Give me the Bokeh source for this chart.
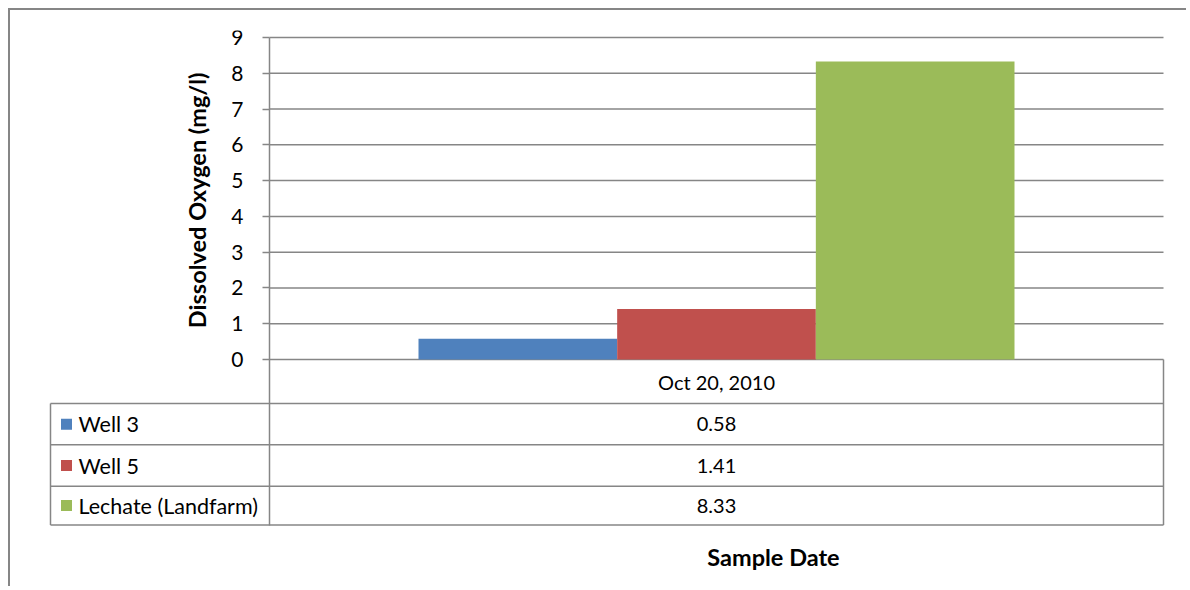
from math import pi
from bokeh.plotting import figure
from bokeh.models import Range1d, FixedTicker
from bokeh.core.properties import value
from bokeh.embed import file_html
from bokeh.resources import INLINE

# ---------------- data ----------------
categories = ["Oct 20, 2010"]
series = ["Well 3", "Well 5", "Lechate (Landfarm)"]
values = [0.58, 1.41, 8.33]
colors = ["#4F81BD", "#C0504D", "#9BBB59"]
value_labels = ["0.58", "1.41", "8.33"]
y_ticks = [0, 1, 2, 3, 4, 5, 6, 7, 8, 9]
y_title = "Dissolved Oxygen (mg/l)"
x_title = "Sample Date"

# ---------------- layout (page pixels) ----------------
MARGIN = 8
BORDER = 2
W, H = 1178, 578
ORG_X = MARGIN + BORDER
ORG_Y = MARGIN + BORDER
AX_X = 269.0      # y axis / category start
PLOT_R = 1163.0   # category end
Y0_PX = 359.0     # value 0
Y9_PX = 37.0      # value 9
FRAME_L = 48.0
FRAME_T = 30.0
FRAME_R = ORG_X + W
FRAME_B = ORG_Y + H
ROW_PX = [359.0, 403.0, 444.3, 485.7, 524.5]
LEG_L = 50.0
GRID = "#868686"
FONT = "Lato"

PX_PER_UNIT = (Y0_PX - Y9_PX) / (y_ticks[-1] - y_ticks[0])
CAT_W = PLOT_R - AX_X


def dx(px):
    return (px - AX_X) / CAT_W


def dy(py):
    return (Y0_PX - py) / PX_PER_UNIT


p = figure(width=W, height=H, output_backend="svg", toolbar_location=None,
           x_range=Range1d(dx(FRAME_L), dx(FRAME_R)),
           y_range=Range1d(dy(FRAME_B), dy(FRAME_T)),
           x_axis_location=None,
           min_border_left=int(FRAME_L - ORG_X), min_border_top=int(FRAME_T - ORG_Y),
           min_border_right=0, min_border_bottom=0)
p.styles = {"margin-left": f"{MARGIN}px", "margin-top": f"{MARGIN}px",
            "border-left": f"{BORDER}px solid {GRID}", "border-top": f"{BORDER}px solid {GRID}"}
p.outline_line_color = None
p.xgrid.visible = False
p.ygrid.visible = False
p.background_fill_color = "white"
p.border_fill_color = "white"

# y axis drawn through the category start
ax = p.yaxis[0]
ax.fixed_location = 0
ax.ticker = FixedTicker(ticks=y_ticks)
ax.bounds = (dy(ROW_PX[-1]), y_ticks[-1])
ax.axis_line_color = GRID
ax.axis_line_width = 1.5
ax.major_tick_line_color = GRID
ax.major_tick_line_width = 1.5
ax.major_tick_in = 0
ax.major_tick_out = 7
ax.minor_tick_line_color = None
ax.major_label_standoff = 19
ax.major_label_text_font = FONT
ax.major_label_text_font_size = "21px"
ax.major_label_text_color = "black"

# gridlines at ticks
p.segment(x0=[0] * len(y_ticks), x1=[1] * len(y_ticks), y0=y_ticks, y1=y_ticks,
          line_color=GRID, line_width=1.5)

# bars
n = len(series)
bw = (2.0 / 3.0) / n
for ci, cat in enumerate(categories):
    xs = [ci + 0.5 + (j - (n - 1) / 2) * bw for j in range(n)]
    p.vbar(x=xs, top=values, bottom=0, width=bw, fill_color=colors, line_color=None)

# data table lines
rows_y = [dy(v) for v in ROW_PX]
p.segment(x0=[dx(LEG_L)] * 4, x1=[1] * 4, y0=rows_y[1:], y1=rows_y[1:],
          line_color=GRID, line_width=1.5)
p.segment(x0=[dx(LEG_L), 1], x1=[dx(LEG_L), 1], y0=[rows_y[1], rows_y[0]],
          y1=[rows_y[-1], rows_y[-1]], line_color=GRID, line_width=1.5)

# header row text (category)
p.text(x=[ci + 0.5 for ci in range(len(categories))],
       y=[(rows_y[0] + rows_y[1]) / 2] * len(categories), text=categories,
       text_align="center", text_baseline="middle", text_font=value(FONT),
       text_font_size=value("20px"), text_color="black")

# rows
row_c = [(rows_y[i + 1] + rows_y[i + 2]) / 2 for i in range(n)]
p.text(x=[0.5] * n, y=row_c, text=value_labels, text_align="center",
       text_baseline="middle", text_font=value(FONT), text_font_size=value("20px"),
       text_color="black")
p.rect(x=[dx(66)] * n, y=row_c, width=11, height=11, width_units="screen",
       height_units="screen", fill_color=colors, line_color=None)
p.text(x=[dx(78)] * n, y=row_c, text=series, text_align="left",
       text_baseline="middle", text_font=value(FONT), text_font_size=value("21.5px"),
       text_color="black")

# axis titles
p.text(x=[dx(196)], y=[(y_ticks[0] + y_ticks[-1]) / 2 - 0.05], text=[y_title], angle=pi / 2,
       text_align="center", text_baseline="middle", text_font=value(FONT),
       text_font_size=value("23.5px"), text_font_style=value("bold"), text_color="black")
p.text(x=[dx(773)], y=[dy(556)], text=[x_title], text_align="center",
       text_baseline="middle", text_font=value(FONT), text_font_size=value("23.5px"),
       text_font_style=value("bold"), text_color="black")

open("out.html", "w").write(file_html(p, INLINE))
